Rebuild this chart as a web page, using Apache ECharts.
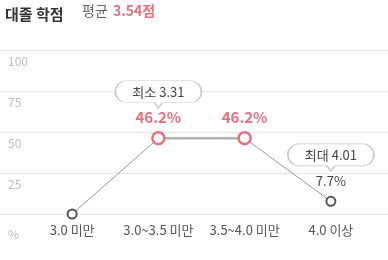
<!DOCTYPE html>
<html><head><meta charset="utf-8">
<script src="https://cdn.jsdelivr.net/npm/echarts@6/dist/echarts.min.js"></script>
<style>html,body{margin:0;padding:0;background:#fff}#c{width:388px;height:260px}</style>
</head><body><div id="c"></div>
<script>
const categories = ['3.0 미만', '3.0~3.5 미만', '3.5~4.0 미만', '4.0 이상'];
const values = [0, 46.2, 46.2, 7.7];
const highlight = [null, 46.2, 46.2, null];
const yTicks = [0, 25, 50, 75, 100];
const minInfo = { idx: 1, text: '최소 3.31' };
const maxInfo = { idx: 3, text: '최대 4.01' };
const avgText = '3.54점';

const PINK = '#e8707c';
const FONT = '"Noto Sans CJK KR", "Noto Sans", sans-serif';
const bubblePath = 'path://M11,0 L75,0 C81,0 86,5 86,11 C86,17 81,22 75,22 L47,22 L43,27 L39,22 L11,22 C5,22 0,17 0,11 C0,5 5,0 11,0 Z';

const chart = echarts.init(document.getElementById('c'), null, {renderer: 'canvas'});
chart.setOption({
  animation: false,
  textStyle: { fontFamily: FONT },
  title: {
    left: 0, top: 2,
    text: '대졸 학점',
    textStyle: { fontSize: 15, fontWeight: 'bold', color: '#333', fontFamily: FONT }
  },
  graphic: [{
    type: 'text', left: 82, top: 4,
    style: {
      text: '평균 {b|' + avgText + '}',
      font: '14px ' + FONT, fill: '#666',
      rich: { b: { fontSize: 14, fontWeight: 'bold', fill: PINK, fontFamily: FONT, padding: [0,0,0,2] } }
    }
  }],
  grid: [
    { left: 29, right: 14, top: 50, bottom: 46 },
    { left: 0, right: 0, top: 50, bottom: 46 }
  ],
  xAxis: [
    { gridIndex: 0, type: 'category', data: categories, boundaryGap: true,
      axisLine: { show: false }, axisTick: { show: false },
      axisLabel: { interval: 0, margin: 10, fontSize: 13, color: '#555', fontFamily: FONT } },
    { gridIndex: 1, type: 'value', show: false, min: 0, max: 1 }
  ],
  yAxis: [
    { gridIndex: 0, type: 'value', min: 0, max: 100, interval: 25, show: false },
    { gridIndex: 1, type: 'value', min: 0, max: 100, interval: 25,
      axisLine: { show: false }, axisTick: { show: false },
      splitLine: { lineStyle: { color: '#e6e6e6', width: 1 } },
      axisLabel: { inside: true, verticalAlign: 'top', fontSize: 12, color: '#bdbdbd', fontFamily: FONT,
        formatter: function (v) { return yTicks.indexOf(v) === 0 ? '{p|%}' : '{n|' + v + '}'; },
        rich: { n: { padding: [5, 0, 0, 0], fontSize: 12, color: '#bdbdbd' }, p: { padding: [14, 0, 0, 0], fontSize: 12, color: '#bdbdbd' } } }
    }
  ],
  series: [
    { type: 'line', xAxisIndex: 0, yAxisIndex: 0, z: 3,
      data: values.map(function (v, i) {
        const isHi = highlight[i] !== null;
        return {
          value: v,
          symbolSize: isHi ? 12 : 9,
          itemStyle: { color: '#fff', borderColor: isHi ? PINK : '#555', borderWidth: isHi ? 2.5 : 2 },
          label: {
            show: i !== 0,
            formatter: v + '%',
            position: 'top', distance: isHi ? 6 : 8,
            color: isHi ? PINK : '#444', fontWeight: isHi ? 'bold' : 'normal',
            fontSize: isHi ? 15 : 13, fontFamily: FONT
          }
        };
      }),
      symbol: 'circle',
      lineStyle: { color: '#999', width: 1 },
      markPoint: {
        symbol: bubblePath, symbolSize: [86, 27], symbolOffset: [0, -44],
        itemStyle: { color: '#fff', borderColor: '#c8c8c8', borderWidth: 1 },
        label: { show: true, color: '#444', fontSize: 13, fontFamily: FONT, offset: [0, -2],
          formatter: function (p) { return p.name; } },
        data: [
          { name: minInfo.text, coord: [minInfo.idx, values[minInfo.idx]] },
          { name: maxInfo.text, coord: [maxInfo.idx, values[maxInfo.idx]] }
        ]
      }
    },
    { type: 'line', xAxisIndex: 0, yAxisIndex: 0, z: 2, data: highlight, symbol: 'none',
      lineStyle: { color: '#cfcfcf', width: 3 }, silent: true }
  ]
});
</script></body></html>
